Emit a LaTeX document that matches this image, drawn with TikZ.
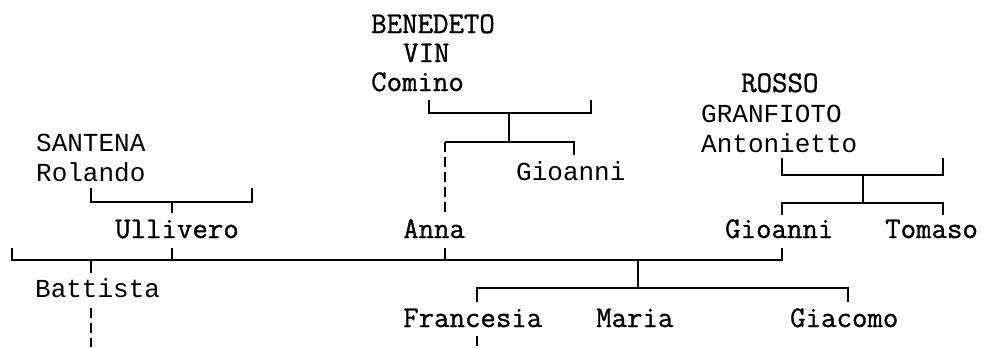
\documentclass[tikz,border=0pt]{standalone}
\usepackage{fontspec}
\newfontfamily\sansmono{Liberation Mono}
\newfontfamily\serifmono[FakeBold=1]{Latin Modern Mono}
\tikzset{
	sansname/.style={font=\sansmono\fontsize{26bp}{26bp}\selectfont, anchor=base west, inner sep=0pt},
	serifname/.style={font=\serifmono\fontsize{30bp}{30bp}\selectfont, anchor=base west, inner sep=0pt},
	line/.style={black, line width=1.6bp},
	dashline/.style={line, dash pattern=on 10bp off 5bp}
}
\begin{document}
\begin{tikzpicture}[x=1bp, y=-1bp]
		\useasboundingbox (0,0) rectangle (985,347);

		\node[serifname] (benedeto)	at (371,33) {BENEDETO};
		\node[serifname] (vin)		at (403,62) {VIN};
		\node[serifname] (comino)		at (371,91) {Comino};
		\node[serifname] (rosso)		at (741,92) {ROSSO};
		\node[sansname] (granfioto)	at (701,122) {GRANFIOTO};
		\node[sansname] (antonietto)	at (701,152) {Antonietto};
		\node[sansname] (santena)		at (36,151) {SANTENA};
		\node[sansname] (rolando)		at (36,181) {Rolando};
		\node[sansname] (gioanniA)	at (516,180) {Gioanni};
		\node[serifname] (ullivero)	at (115,238) {Ullivero};
		\node[serifname] (anna)		at (403,238) {Anna};
		\node[serifname] (gioanniB)	at (725,238) {Gioanni};
		\node[serifname] (tomaso)		at (885,238) {Tomaso};
		\node[sansname] (battista)	at (35,297) {Battista};
		\node[serifname] (francesia)	at (403,327) {Francesia};
		\node[serifname] (maria)		at (596,327) {Maria};
		\node[serifname] (giacomo)	at (790,327) {Giacomo};

		\coordinate (cl) at (429,100);	\coordinate (cr) at (591,100);
		\coordinate (cj) at (509,113);	\coordinate (ck) at (509,142);
		\coordinate (ak) at (445,142);	\coordinate (at) at (445,212);
		\coordinate (gk) at (574,155);
		\coordinate (rl) at (91,188);	\coordinate (rr) at (252,188);
		\coordinate (rj) at (172,202);	\coordinate (ut) at (172,213);
		\coordinate (tl) at (782,158);	\coordinate (tr) at (943,158);
		\coordinate (tj) at (863,175);	\coordinate (tk) at (863,203);
		\coordinate (gl) at (782,215);	\coordinate (gr) at (943,215);
		\coordinate (ml) at (12,248);	\coordinate (mr) at (782,248);
		\coordinate (ub) at (172,248);	\coordinate (ab) at (445,248);
		\coordinate (bj) at (91,260);	\coordinate (bt) at (91,273);
		\coordinate (fj) at (638,260);	\coordinate (fk) at (638,288);
		\coordinate (fl) at (477,302);	\coordinate (fr) at (848,302);
		\coordinate (bd) at (91,308);	\coordinate (be) at (91,347);
		\coordinate (fd) at (477,336);	\coordinate (fe) at (477,347);

		\draw[line]	(cl) |- (cj) -| (cr);
		\draw[line]	(cj) to (ck);
		\draw[line]	(ak) to (ck) -| (gk);
		\draw[dashline]	(ak) to (at);

		\draw[line]	(rl) |- (rj) -| (rr);
		\draw[line]	(rj) to (ut);

		\draw[line]	(tl) |- (tj) -| (tr);
		\draw[line]	(tj) to (tk);
		\draw[line]	(gl) |- (tk) -| (gr);

		\draw[line]	(ml) |- (fj) -| (mr);
		\draw[line]	(ub) to (ub |- fj);
		\draw[line]	(ab) to (ab |- fj);
		\draw[line]	(bj) to (bt);
		\draw[line]	(fj) to (fk);
		\draw[line]	(fl) |- (fk) -| (fr);

		\draw[dashline]	(bd) to (be);
		\draw[dashline]	(fd) to (fe);
	\end{tikzpicture}
\end{document}
